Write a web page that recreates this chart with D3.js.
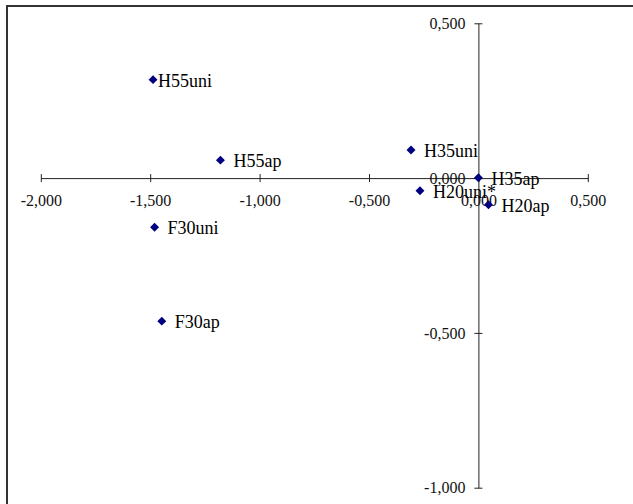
<!DOCTYPE html>
<html>
<head>
<meta charset="utf-8">
<script src="https://cdn.jsdelivr.net/npm/d3@7"></script>
<style>
  html, body { margin: 0; padding: 0; background: #fff; }
  svg { display: block; }
</style>
</head>
<body>
<script>
// ---- data ----
const labels  = ["H55uni", "H55ap", "H35uni", "H35ap", "H20uni*", "H20ap", "F30uni", "F30ap"];
const xValues = [-1.487, -1.179, -0.308, 0.000, -0.267, 0.046, -1.480, -1.447];
const yValues = [0.318, 0.058, 0.091, 0.001, -0.041, -0.086, -0.159, -0.462];
const xTicks  = [-2.0, -1.5, -1.0, -0.5, 0.0, 0.5];
const yTicks  = [0.5, 0.0, -0.5, -1.0];
// label horizontal offsets (layout, px)
const labelDx = [5, 13, 13, 13, 13, 13, 13, 13];

const W = 633, H = 504;
const svg = d3.select("body").append("svg").attr("width", W).attr("height", H);

// chart frame (extends past the right/bottom of the picture)
svg.append("rect")
  .attr("x", 7).attr("y", 6).attr("width", 640).attr("height", 520)
  .attr("fill", "none").attr("stroke", "#333").attr("stroke-width", 2);

const x = d3.scaleLinear().domain([-2, 0.5]).range([40.8, 587.8]);
const y = d3.scaleLinear().domain([-1, 0.5]).range([487.7, 23.3]);

const fmt = v => d3.format(".3f")(v).replace(".", ",").replace("−", "-");

// x axis through y=0
const xAxis = d3.axisBottom(x).tickValues(xTicks).tickSizeInner(3).tickSizeOuter(0).tickFormat("");
const gx = svg.append("g").attr("transform", `translate(0,${y(0)})`).call(xAxis);
gx.select(".domain").attr("stroke", "#222");
gx.selectAll(".tick line").attr("stroke", "#222").attr("y1", -4).attr("y2", 4);
gx.selectAll(".tick").append("text")
  .attr("y", 28).attr("text-anchor", "middle")
  .attr("fill", "#111")
  .style("font-family", "'Liberation Serif', 'Times New Roman', serif")
  .style("font-size", "16px")
  .text(d => fmt(d));

// y axis through x=0
const yAxis = d3.axisLeft(y).tickValues(yTicks).tickSizeInner(4).tickSizeOuter(0).tickFormat("");
const gy = svg.append("g").attr("transform", `translate(${x(0)},0)`).call(yAxis);
gy.select(".domain").attr("stroke", "#222");
gy.selectAll(".tick line").attr("stroke", "#222").attr("x1", -4).attr("x2", 4);
gy.selectAll(".tick").append("text")
  .attr("x", -13).attr("dy", "0.33em").attr("text-anchor", "end")
  .attr("fill", "#111")
  .style("font-family", "'Liberation Serif', 'Times New Roman', serif")
  .style("font-size", "16px")
  .text(d => fmt(d));

// points
const pts = labels.map((l, i) => ({ label: l, x: xValues[i], y: yValues[i], dx: labelDx[i] }));
const diamond = d3.symbol().type(d3.symbolSquare).size(40);
svg.append("g").selectAll("path").data(pts).join("path")
  .attr("d", diamond)
  .attr("transform", d => `translate(${x(d.x)},${y(d.y)}) rotate(45)`)
  .attr("fill", "#000080");

svg.append("g").selectAll("text").data(pts).join("text")
  .attr("x", d => x(d.x) + d.dx)
  .attr("y", d => y(d.y) + 7)
  .attr("fill", "#000")
  .style("font-family", "'Liberation Serif', 'Times New Roman', serif")
  .style("font-size", "18px")
  .text(d => d.label);
</script>
</body>
</html>
